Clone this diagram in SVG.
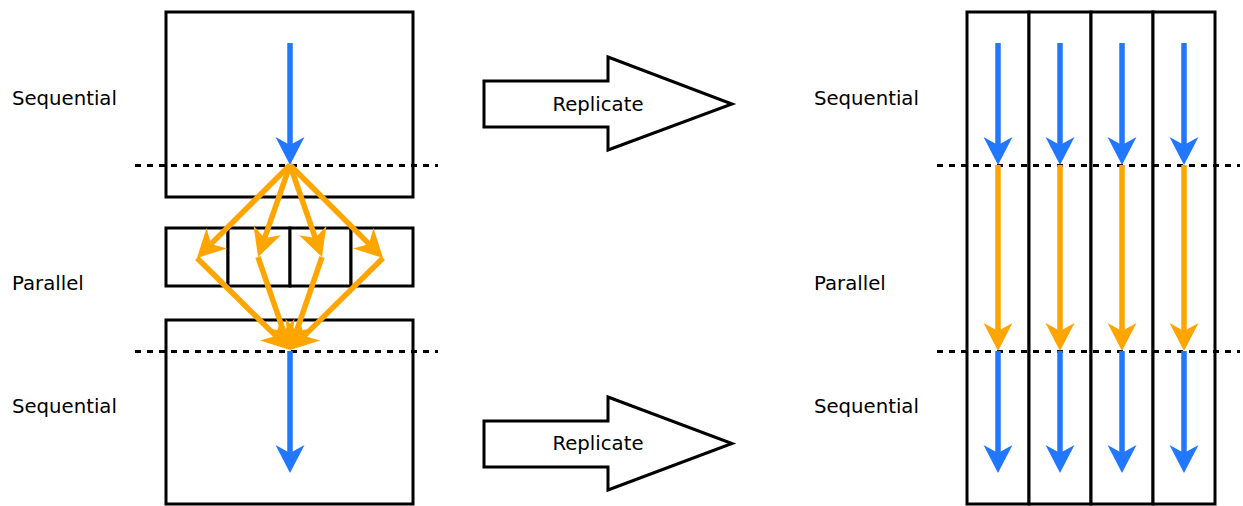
<svg xmlns="http://www.w3.org/2000/svg" width="1243" height="506" viewBox="0 0 1243 506">
  <style>
    .box { fill: #ffffff; stroke: #000000; stroke-width: 3; }
    .cut { fill: none; stroke: #000000; stroke-width: 3; stroke-dasharray: 6 6; }
    .label { font-family: "DejaVu Sans", "Liberation Sans", sans-serif; font-size: 19.7px; fill: #000000; }
    .seq { fill: none; stroke: #2277ff; stroke-width: 5.5; marker-end: url(#headBlue); }
    .par { fill: none; stroke: #ffa500; stroke-width: 5.5; marker-end: url(#headOrange); }
    .bigarrow { fill: #ffffff; stroke: #000000; stroke-width: 3; stroke-linejoin: miter; }
  </style>
  <defs>
    <!-- dart-shaped heads; the line ends at the notch, the tip sits 20px further on -->
    <marker id="headBlue" markerUnits="userSpaceOnUse" orient="auto" refX="0" refY="0" markerWidth="1" markerHeight="1" overflow="visible">
      <path d="M20,0 L-8,-14.5 L0,0 L-8,14.5 Z" fill="#2277ff"/>
    </marker>
    <marker id="headOrange" markerUnits="userSpaceOnUse" orient="auto" refX="0" refY="0" markerWidth="1" markerHeight="1" overflow="visible">
      <path d="M20,0 L-8,-14.5 L0,0 L-8,14.5 Z" fill="#ffa500"/>
    </marker>
  </defs>

  <!-- left: one program, sequential / parallel / sequential -->
  <g id="left-top-block">
    <rect class="box" x="166" y="12" width="247" height="185"/>
  </g>
  <g id="left-parallel-block">
    <rect class="box" x="166" y="228" width="62" height="58"/>
    <rect class="box" x="228" y="228" width="62" height="58"/>
    <rect class="box" x="290" y="228" width="61" height="58"/>
    <rect class="box" x="351" y="228" width="62" height="58"/>
  </g>
  <g id="left-bottom-block">
    <rect class="box" x="166" y="320" width="247" height="184"/>
  </g>

  <!-- right: the same program replicated four times -->
  <g id="right-columns">
    <rect class="box" x="967" y="12" width="62" height="492"/>
    <rect class="box" x="1029" y="12" width="62" height="492"/>
    <rect class="box" x="1091" y="12" width="62" height="492"/>
    <rect class="box" x="1153" y="12" width="62" height="492"/>
  </g>

  <g id="phase-boundaries">
    <line class="cut" x1="135" y1="165.5" x2="438" y2="165.5"/>
    <line class="cut" x1="135" y1="351.5" x2="438" y2="351.5"/>
    <line class="cut" x1="937" y1="165.5" x2="1240" y2="165.5"/>
    <line class="cut" x1="937" y1="351.5" x2="1240" y2="351.5"/>
  </g>

  <g id="labels">
    <text class="label" x="12" y="105">Sequential</text>
    <text class="label" x="12" y="290">Parallel</text>
    <text class="label" x="12" y="413">Sequential</text>
    <text class="label" x="814" y="105">Sequential</text>
    <text class="label" x="814" y="290">Parallel</text>
    <text class="label" x="814" y="413">Sequential</text>
  </g>

  <g id="replicate-top">
    <path class="bigarrow" d="M484,81 L608,81 L608,57 L732,104 L608,150 L608,127 L484,127 Z"/>
    <text class="label" x="598" y="111" text-anchor="middle">Replicate</text>
  </g>
  <g id="replicate-bottom">
    <path class="bigarrow" d="M484,421 L608,421 L608,397 L732,443.5 L608,490 L608,467 L484,467 Z"/>
    <text class="label" x="598" y="450" text-anchor="middle">Replicate</text>
  </g>

  <g id="connectors">
    <!-- left: sequential flow -->
    <line class="seq" x1="290" y1="43" x2="290" y2="145"/>
    <line class="seq" x1="290" y1="351" x2="290" y2="453"/>
    <!-- left: fork -->
    <line class="par" x1="290" y1="165" x2="211.1" y2="243.9"/>
    <line class="par" x1="290" y1="165" x2="264.6" y2="238.1"/>
    <line class="par" x1="290" y1="165" x2="315.4" y2="238.1"/>
    <line class="par" x1="290" y1="165" x2="368.9" y2="243.9"/>
    <!-- left: join -->
    <line class="par" x1="197" y1="258" x2="275.8" y2="335.9"/>
    <line class="par" x1="258" y1="257" x2="283.5" y2="331.1"/>
    <line class="par" x1="322" y1="257" x2="296.5" y2="331.1"/>
    <line class="par" x1="383" y1="258" x2="304.2" y2="335.9"/>

    <!-- right: four independent lanes -->
    <line class="seq" x1="998" y1="43" x2="998" y2="145"/>
    <line class="seq" x1="1060" y1="43" x2="1060" y2="145"/>
    <line class="seq" x1="1122" y1="43" x2="1122" y2="145"/>
    <line class="seq" x1="1184" y1="43" x2="1184" y2="145"/>
    <line class="par" x1="998" y1="165" x2="998" y2="331"/>
    <line class="par" x1="1060" y1="165" x2="1060" y2="331"/>
    <line class="par" x1="1122" y1="165" x2="1122" y2="331"/>
    <line class="par" x1="1184" y1="165" x2="1184" y2="331"/>
    <line class="seq" x1="998" y1="351" x2="998" y2="453"/>
    <line class="seq" x1="1060" y1="351" x2="1060" y2="453"/>
    <line class="seq" x1="1122" y1="351" x2="1122" y2="453"/>
    <line class="seq" x1="1184" y1="351" x2="1184" y2="453"/>
  </g>
</svg>
